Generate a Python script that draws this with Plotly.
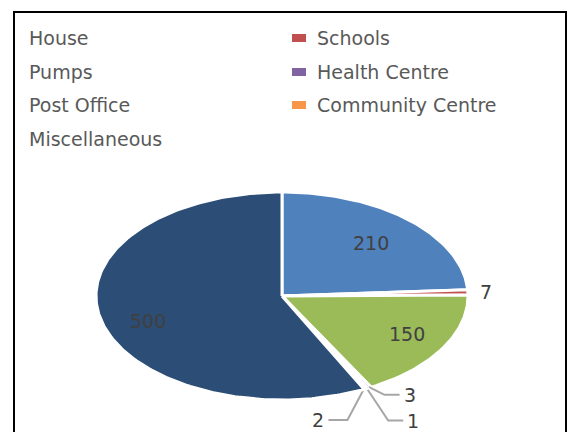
import numpy as np
import plotly.graph_objects as go

# datos del gráfico
categorias = ["House", "Schools", "Pumps", "Health Centre", "Post Office",
              "Community Centre", "Miscellaneous"]
valores = [210, 7, 150, 3, 1, 2, 500]
colores = ["#4F81BD", "#C0504D", "#9BBB59", "#8064A2", "#4BACC6",
           "#F79646", "#2C4D75"]

# geometría (píxeles): el pastel original está estirado en horizontal
CX, CY, RX, RY = 282, 296, 186, 104
FUENTE = "DejaVu Sans"
GRIS_TXT = "#595959"
GRIS_ETQ = "#404040"
GRIS_GUIA = "#a6a6a6"

# radio relativo de las etiquetas internas y desplazamiento vertical
DENTRO = {0: (0.70, 0), 2: (0.78, -3), 6: (0.74, 8)}
# guías para las porciones diminutas: (codo dx, codo dy, fin dx)
GUIAS = {3: (16, 8, 31), 4: (22, 33, 37), 5: (-17, 32, -36)}


def punto(ang, f=1.0):
    return CX + RX * f * np.sin(ang), CY - RY * f * np.cos(ang)


def main():
    total = sum(valores)
    fig = go.Figure()
    anot = []
    acum = 0.0
    for i, (cat, v, col) in enumerate(zip(categorias, valores, colores)):
        a0 = acum / total * 2 * np.pi
        acum += v
        a1 = acum / total * 2 * np.pi
        n = max(3, int(np.degrees(a1 - a0)) + 2)
        angs = np.linspace(a0, a1, n)
        xs, ys = punto(angs)
        fig.add_trace(go.Scatter(
            x=np.r_[CX, xs, CX], y=np.r_[CY, ys, CY], mode="lines",
            fill="toself", fillcolor=col, line=dict(color="white", width=3),
            name=cat, showlegend=False, hoverinfo="name"))

        am = (a0 + a1) / 2
        if i in DENTRO:
            f, dy = DENTRO[i]
            x, y = punto(am, f)
            anot.append(dict(x=x, y=y, yshift=-dy, text=str(v), showarrow=False,
                             font=dict(family=FUENTE, size=19, color=GRIS_ETQ)))
        elif i in GUIAS:
            x, y = punto(am, 0.99)
            dx, dy, dx2 = GUIAS[i]
            fig.add_trace(go.Scatter(
                x=[x, x + dx, x + dx2], y=[y, y + dy, y + dy], mode="lines",
                line=dict(color=GRIS_GUIA, width=2), showlegend=False,
                hoverinfo="skip"))
            anot.append(dict(x=x + dx2 + (2 if dx2 > 0 else -2), y=y + dy,
                             text=str(v), showarrow=False,
                             xanchor="left" if dx2 > 0 else "right",
                             font=dict(family=FUENTE, size=19, color=GRIS_ETQ)))
        else:
            x, y = punto(am, 1.1)
            anot.append(dict(x=x, y=y, text=str(v), showarrow=False,
                             font=dict(family=FUENTE, size=19, color=GRIS_ETQ)))

    # leyenda a mano: dos columnas, la izquierda recortada por el marco
    filas_y = [38, 72, 105, 139]
    formas = []
    for j, (cat, col) in enumerate(zip(categorias, colores)):
        fila, columna = divmod(j, 2)
        y = filas_y[fila]
        if columna == 0:
            anot.append(dict(x=27, y=y, text=cat, showarrow=False, xanchor="left",
                             font=dict(family=FUENTE, size=19, color=GRIS_TXT)))
        else:
            formas.append(dict(type="rect", x0=292, x1=306, y0=y - 4, y1=y + 4,
                               fillcolor=col, line=dict(width=0)))
            anot.append(dict(x=315, y=y, text=cat, showarrow=False, xanchor="left",
                             font=dict(family=FUENTE, size=19, color=GRIS_TXT)))

    formas.append(dict(type="rect", x0=14, y0=12, x1=566, y1=445,
                       line=dict(color="black", width=2)))

    fig.update_layout(
        width=572, height=432, margin=dict(l=0, r=0, t=0, b=0),
        paper_bgcolor="white", plot_bgcolor="white",
        xaxis=dict(range=[0, 572], visible=False, fixedrange=True),
        yaxis=dict(range=[432, 0], visible=False, fixedrange=True),
        annotations=anot, shapes=formas, showlegend=False,
    )
    fig.write_html("out.html", config={"displayModeBar": False},
                   post_script="document.body.style.margin='0';")


if __name__ == "__main__":
    main()
